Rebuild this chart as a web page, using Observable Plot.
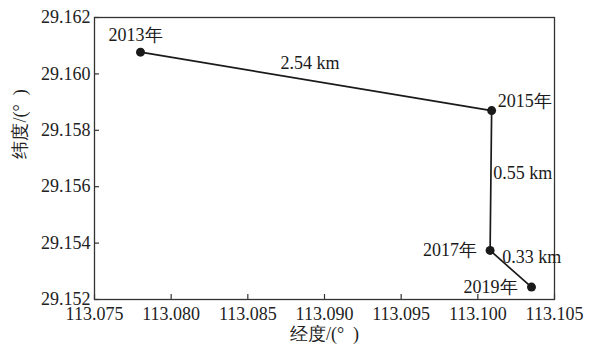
<!DOCTYPE html>
<html>
<head>
<meta charset="utf-8">
<script src="https://cdn.jsdelivr.net/npm/d3@7"></script>
<script src="https://cdn.jsdelivr.net/npm/@observablehq/plot@0.6"></script>
<style>
  html, body { margin: 0; padding: 0; background: #fff; }
</style>
</head>
<body>
<div id="chart"></div>
<script>
const years = ["2013年", "2015年", "2017年", "2019年"];
const lon = [113.0780, 113.1009, 113.1008, 113.1035];
const lat = [29.16077, 29.15870, 29.15374, 29.15244];
const distances = ["2.54 km", "0.55 km", "0.33 km"];
const xTicks = [113.075, 113.080, 113.085, 113.090, 113.095, 113.100, 113.105];
const yTicks = [29.152, 29.154, 29.156, 29.158, 29.160, 29.162];
const xLabel = "经度/(°  )";
const yLabel = "纬度/(°  )";

const rows = years.map((y, i) => ({year: y, lon: lon[i], lat: lat[i]}));
const segs = distances.map((t, i) => ({
  text: t,
  lon: (lon[i] + lon[i + 1]) / 2,
  lat: (lat[i] + lat[i + 1]) / 2
}));
const fmt = d3.format(".3f");
const ink = "#1a1a1a";
const serif = "Liberation Serif";

const yearLabel = (i, opts) => Plot.text(rows, {
  filter: (d, j) => j === i, x: "lon", y: "lat", text: "year", fill: ink, fontFamily: serif, fontSize: 18, ...opts
});
const segLabel = (i, opts) => Plot.text(segs, {
  filter: (d, j) => j === i, x: "lon", y: "lat", text: "text", fill: ink, fontFamily: serif, fontSize: 18, ...opts
});

const chart = Plot.plot({
  width: 593,
  height: 349,
  marginLeft: 94,
  marginRight: 39,
  marginTop: 17,
  marginBottom: 50,
  style: {
    fontFamily: serif,
    fontSize: "18px",
    color: "#222",
    background: "white"
  },
  x: {domain: [113.075, 113.105]},
  y: {domain: [29.152, 29.162]},
  marks: [
    Plot.frame({stroke: "#333", strokeWidth: 1.3}),
    Plot.axisX(xTicks, {tickSize: 0, tickPadding: 8, tickFormat: fmt, label: null, fontFamily: serif, fontSize: 18}),
    Plot.axisY(yTicks, {tickSize: 0, tickPadding: 4, tickFormat: fmt, label: null, fontFamily: serif, fontSize: 18}),
    Plot.tickX(xTicks, {x: d => d, insetTop: 277, stroke: "#333", strokeWidth: 1.2}),
    Plot.tickY(yTicks, {y: d => d, insetRight: 455, stroke: "#333", strokeWidth: 1.2}),
    Plot.text([xLabel], {frameAnchor: "bottom", text: d => d, dy: 40, fill: "#222", fontFamily: serif, fontSize: 18}),
    Plot.text([yLabel], {frameAnchor: "left", text: d => d, dx: -74, rotate: -90, fill: "#222", fontFamily: serif, fontSize: 18}),
    Plot.line(rows, {x: "lon", y: "lat", stroke: ink, strokeWidth: 1.7}),
    Plot.dot(rows, {x: "lon", y: "lat", r: 4.5, fill: ink}),
    yearLabel(0, {dx: -5, dy: -17}),
    yearLabel(1, {textAnchor: "start", dx: 6, dy: -9}),
    yearLabel(2, {textAnchor: "end", dx: -13, dy: 0}),
    yearLabel(3, {textAnchor: "end", dx: -14, dy: 0}),
    segLabel(0, {dx: -6, dy: -18}),
    segLabel(1, {textAnchor: "start", dx: 2.5, dy: -7}),
    segLabel(2, {textAnchor: "start", dx: -8.5, dy: -12})
  ]
});
document.getElementById("chart").appendChild(chart);
chart.querySelectorAll("text").forEach(t => getComputedStyle(t).fontFamily);
</script>
</body>
</html>
